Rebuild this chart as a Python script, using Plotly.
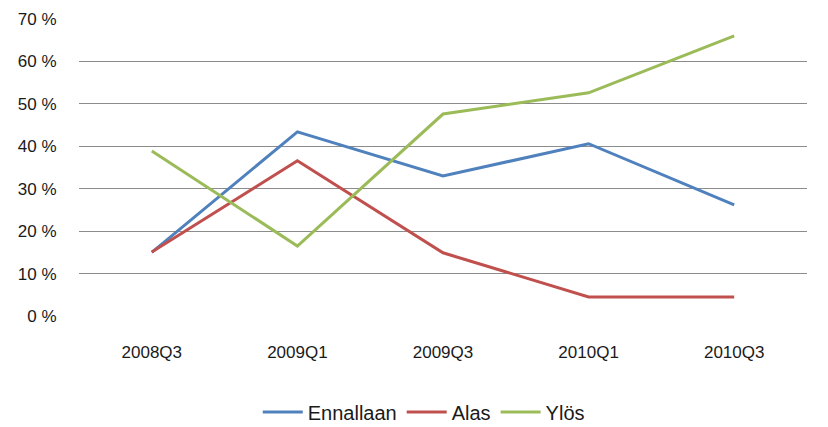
import plotly.graph_objects as go

categories = ["2008Q3", "2009Q1", "2009Q3", "2010Q1", "2010Q3"]
ennallaan = [15.0, 43.4, 33.0, 40.6, 26.2]
alas = [15.1, 36.6, 14.9, 4.5, 4.5]
ylos = [38.9, 16.5, 47.6, 52.6, 66.0]
y_ticks = [0, 10, 20, 30, 40, 50, 60, 70]
y_tick_labels = [f"{v} %" for v in y_ticks]

series = [
    ("Ennallaan", ennallaan, "#4F81BD"),
    ("Alas", alas, "#C0504D"),
    ("Ylös", ylos, "#9BBB59"),
]

fig = go.Figure()
for name, vals, color in series:
    fig.add_trace(go.Scatter(
        x=categories, y=vals, name=name, mode="lines",
        line=dict(color=color, width=3),
    ))

font_family = "Liberation Sans, Arial, sans-serif"

fig.update_layout(
    width=820, height=419,
    margin=dict(l=71, r=21, t=11, b=111, autoexpand=False),
    paper_bgcolor="white", plot_bgcolor="white",
    font=dict(family=font_family, size=17, color="#1a1a1a"),
    showlegend=True,
    legend=dict(orientation="h", xref="container", x=0.507, xanchor="center",
                yref="container", y=0.036, yanchor="middle",
                font=dict(size=20, color="#1a1a1a"), itemwidth=40, tracegroupgap=0),
    xaxis=dict(type="category", range=[-0.5, 4.5], showgrid=False,
               showline=False, ticks="", zeroline=False, ticklabelstandoff=24,
               automargin=False),
    yaxis=dict(range=[0, 70], tickvals=y_ticks, ticktext=y_tick_labels,
               showgrid=True, gridcolor="#8c8c8c", gridwidth=1,
               zeroline=False, showline=False, ticks="outside", ticklen=0,
               ticklabelstandoff=18, automargin=False),
)

fig.write_html("out.html")
